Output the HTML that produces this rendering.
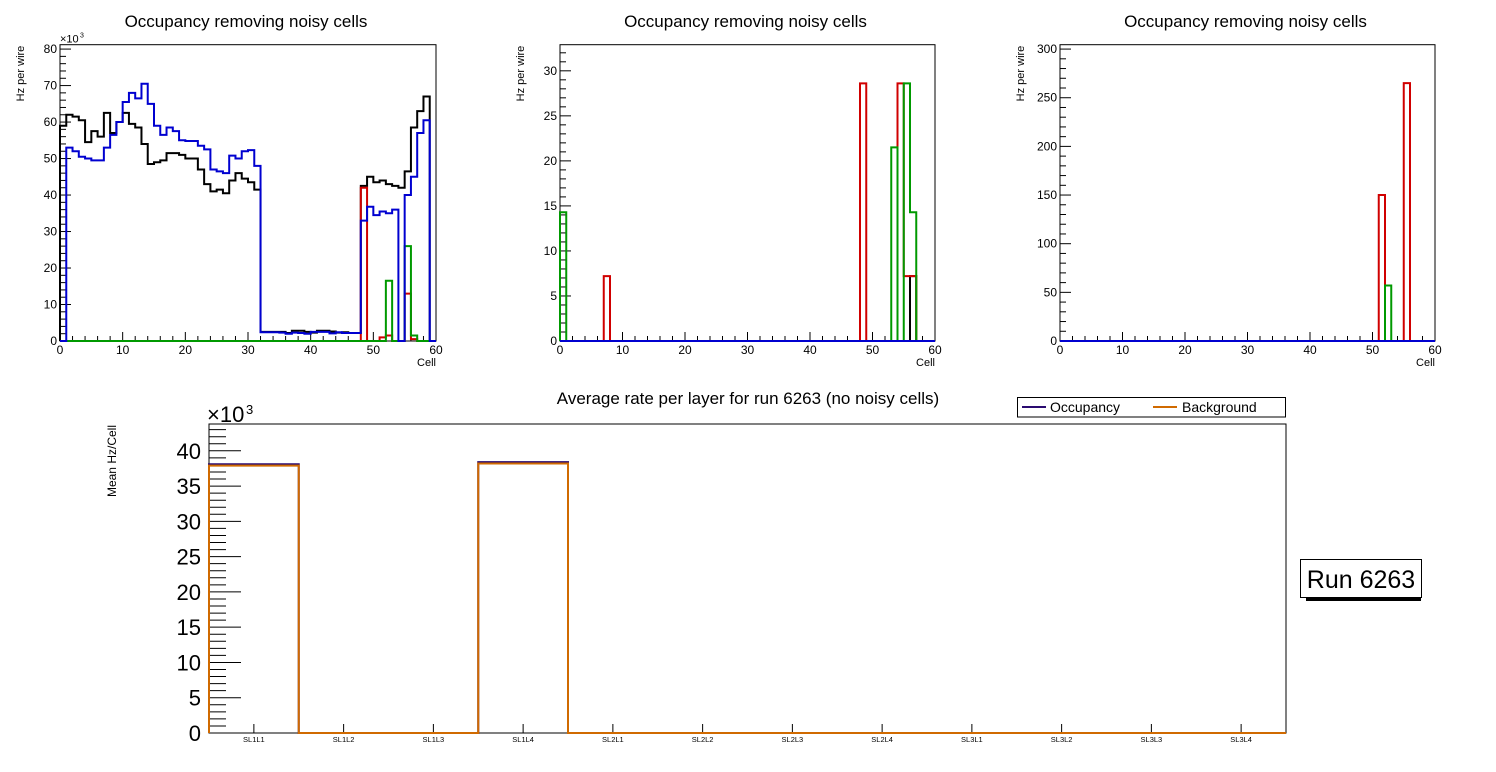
<!DOCTYPE html>
<html><head><meta charset="utf-8"><style>
html,body{margin:0;padding:0;background:#fff;}
svg{display:block;font-family:"Liberation Sans",sans-serif;}
</style></head><body>
<svg id="c" width="1496" height="772" viewBox="0 0 1496 772" xmlns="http://www.w3.org/2000/svg"></svg>
<script>
// Panel 1 data (60 cells)
const p1Black = [59,62,61.5,60.5,54.5,57.5,56,62.5,57,60,62.5,59.5,58.5,54,48.5,49,49.5,51.5,51.5,51,50,50,47,43,41,41.5,40.5,44,46,44.5,43.5,41.5,2.5,2.5,2.5,2.5,2.2,2.8,2.8,2.5,2.3,2.8,2.8,2.6,2.3,2.4,2.2,2.2,42.5,45,43.5,44,43,42.5,42,46.5,58.5,63,67,0];
const p1Blue = [0,53,52,50.5,50,49.5,49.5,53,56.5,60,65.5,68,66.5,70.5,65,59,56.5,58.5,57.5,55,54.8,54.8,53.5,52.5,47,46.5,46,50.8,50,52,52.3,48,2.4,2.4,2.4,2.3,2.0,2.3,2.2,2.0,2.5,2.5,2.5,2.1,2.4,2.2,2.2,2.2,33,36.8,34.5,35.5,35,36,0,40,45,57,60.5,0];
const p1Red = [0,0,0,0,0,0,0,0,0,0,0,0,0,0,0,0,0,0,0,0,0,0,0,0,0,0,0,0,0,0,0,0,0,0,0,0,0,0,0,0,0,0,0,0,0,0,0,0,42,0,0,1,1.5,0,0,13,0.5,0,0,0];
const p1Green = [0,0,0,0,0,0,0,0,0,0,0,0,0,0,0,0,0,0,0,0,0,0,0,0,0,0,0,0,0,0,0,0,0,0,0,0,0,0,0,0,0,0,0,0,0,0,0,0,0,0,0,0,16.5,0,0,26,1.5,0,0,0];
// Panel 2 data
const p2Black = [0,0,0,0,0,0,0,0,0,0,0,0,0,0,0,0,0,0,0,0,0,0,0,0,0,0,0,0,0,0,0,0,0,0,0,0,0,0,0,0,0,0,0,0,0,0,0,0,0,0,0,0,0,0,0,0,7.2,0,0,0];
const p2Red = [0,0,0,0,0,0,0,7.2,0,0,0,0,0,0,0,0,0,0,0,0,0,0,0,0,0,0,0,0,0,0,0,0,0,0,0,0,0,0,0,0,0,0,0,0,0,0,0,0,28.6,0,0,0,0,0,28.6,7.2,7.2,0,0,0];
const p2Green = [14.3,0,0,0,0,0,0,0,0,0,0,0,0,0,0,0,0,0,0,0,0,0,0,0,0,0,0,0,0,0,0,0,0,0,0,0,0,0,0,0,0,0,0,0,0,0,0,0,0,0,0,0,0,21.5,0,28.6,14.3,0,0,0];
const p2Blue = new Array(60).fill(0);
// Panel 3 data
const p3Red = [0,0,0,0,0,0,0,0,0,0,0,0,0,0,0,0,0,0,0,0,0,0,0,0,0,0,0,0,0,0,0,0,0,0,0,0,0,0,0,0,0,0,0,0,0,0,0,0,0,0,0,150,0,0,0,265,0,0,0,0];
const p3Green = [0,0,0,0,0,0,0,0,0,0,0,0,0,0,0,0,0,0,0,0,0,0,0,0,0,0,0,0,0,0,0,0,0,0,0,0,0,0,0,0,0,0,0,0,0,0,0,0,0,0,0,0,57,0,0,0,0,0,0,0];
const p3Blue = new Array(60).fill(0);
// Bottom chart data
const layers = ["SL1L1","SL1L2","SL1L3","SL1L4","SL2L1","SL2L2","SL2L3","SL2L4","SL3L1","SL3L2","SL3L3","SL3L4"];
const occupancy = [38.1,0,0,38.4,0,0,0,0,0,0,0,0];
const background = [37.9,0,0,38.2,0,0,0,0,0,0,0,0];
const xTicks = [0,10,20,30,40,50,60];

const svg = document.getElementById('c');
const NS = 'http://www.w3.org/2000/svg';
function mk(tag, attrs, parent){
  const e = document.createElementNS(NS, tag);
  for (const k in attrs) e.setAttribute(k, attrs[k]);
  (parent||svg).appendChild(e);
  return e;
}
function txt(s, attrs, parent){ const t = mk('text', attrs, parent); t.textContent = s; return t; }

function histPath(vals, xs, ys, n){
  let d = 'M' + xs(0) + ',' + ys(0);
  for (let i=0;i<n;i++){
    d += ' L' + xs(i) + ',' + ys(vals[i]) + ' L' + xs(i+1) + ',' + ys(vals[i]);
  }
  d += ' L' + xs(n) + ',' + ys(0);
  return d;
}

function panel(name, x0, x1, yT, yB, ymax, major, minor, series, exp){
  const g = mk('g', {});
  
  
  const xs = c => x0 + (x1-x0)*c/60;
  const ys = v => yB - (yB-yT)*v/ymax;
  const t = txt('Occupancy removing noisy cells', {x:(x0+x1)/2-2, y:27, 'font-size':17, 'text-anchor':'middle'}, g);
  
  
  mk('rect', {x:x0, y:yT, width:x1-x0, height:yB-yT, fill:'none', stroke:'#000', 'stroke-width':1}, g);
  for (let v=0; v<=ymax+1e-9; v+=minor){
    const isMaj = Math.abs(v/major - Math.round(v/major))<1e-6;
    mk('line', {x1:x0, x2:x0+(isMaj?11:6), y1:ys(v), y2:ys(v), stroke:'#000', 'stroke-width':1}, g);
    if (isMaj){
      const l = txt(String(Math.round(v)), {x:x0-3, y:ys(v)+4, 'font-size':12, 'text-anchor':'end'}, g);
      
      
    }
  }
  for (let c=0;c<=60;c+=2){
    const isMaj = c%10===0;
    mk('line', {x1:xs(c), x2:xs(c), y1:yB, y2:yB-(isMaj?9:5), stroke:'#000', 'stroke-width':1}, g);
  }
  xTicks.forEach(c=>{
    const l = txt(String(c), {x:xs(c), y:yB+13, 'font-size':12, 'text-anchor':'middle'}, g);
    
    
  });
  const xl = txt('Cell', {x:x1, y:yB+25, 'font-size':11, 'text-anchor':'end'}, g);
  
  
  const yl = txt('Hz per wire', {x:0, y:0, 'font-size':11, 'text-anchor':'end', transform:'translate('+(x0-36)+','+(yT+1)+') rotate(-90)'}, g);
  
  
  if (exp){
    const e = txt('×10', {x:x0, y:yT-2, 'font-size':11}, g);
    
    
    txt('3', {x:x0+20, y:yT-7, 'font-size':7}, g);
  }
  series.forEach(s=>{
    const p = mk('path', {d:histPath(s.v, xs, ys, 60), fill:'none', stroke:s.c, 'stroke-width':2}, g);
    
    
  });
}

panel('panel-layer-1', 60, 436, 44.7, 341, 81.2, 10, 2, [
  {v:p1Black, c:'#000', n:'series-black'},
  {v:p1Red, c:'#d00000', n:'series-red'},
  {v:p1Green, c:'#009900', n:'series-green'},
  {v:p1Blue, c:'#0000d0', n:'series-blue'}], true);
panel('panel-layer-2', 560, 935, 44.7, 341, 32.9, 5, 1, [
  {v:p2Black, c:'#000', n:'series-black'},
  {v:p2Red, c:'#d00000', n:'series-red'},
  {v:p2Green, c:'#009900', n:'series-green'},
  {v:p2Blue, c:'#0000d0', n:'series-blue'}], false);
panel('panel-layer-3', 1060, 1435, 44.7, 341, 304.5, 50, 10, [
  {v:p3Red, c:'#d00000', n:'series-red'},
  {v:p3Green, c:'#009900', n:'series-green'},
  {v:p3Blue, c:'#0000d0', n:'series-blue'}], false);

(function(){
  const g = mk('g', {});
  
  
  const x0=209, x1=1286, yT=424, yB=733, ymax=43.8, n=layers.length;
  const xs = i => x0 + (x1-x0)*i/n;
  const ys = v => yB - (yB-yT)*v/ymax;
  mk('rect', {x:x0, y:yT, width:x1-x0, height:yB-yT, fill:'none', stroke:'#000', 'stroke-width':1}, g);
  const t = txt('Average rate per layer for run 6263 (no noisy cells)', {x:748, y:404, 'font-size':17, 'text-anchor':'middle'}, g);
  
  
  for (let v=0; v<=ymax; v+=1){
    const isMaj = v%5===0;
    mk('line', {x1:x0, x2:x0+(isMaj?32:17), y1:ys(v), y2:ys(v), stroke:'#000', 'stroke-width':1}, g);
    if (isMaj){
      const l = txt(String(v), {x:x0-8, y:ys(v)+8, 'font-size':22, 'text-anchor':'end'}, g);
      
      
    }
  }
  layers.forEach((lab,i)=>{
    const cx = (xs(i)+xs(i+1))/2;
    mk('line', {x1:cx, x2:cx, y1:yB, y2:yB-9, stroke:'#000', 'stroke-width':1}, g);
    const l = txt(lab, {x:cx, y:yB+9, 'font-size':7.5, 'text-anchor':'middle'}, g);
    
    
  });
  const e = txt('×10', {x:x0-2, y:yT-2, 'font-size':22}, g);
  
  
  txt('3', {x:x0+37, y:yT-10, 'font-size':13}, g);
  const yl = txt('Mean Hz/Cell', {x:0, y:0, 'font-size':12, 'text-anchor':'end', transform:'translate(116,425) rotate(-90)'}, g);
  
  
  const po = mk('path', {d:histPath(occupancy, xs, ys, n), fill:'none', stroke:'#2a0a70', 'stroke-width':2}, g);
  
  
  const pb = mk('path', {d:histPath(background, xs, ys, n), fill:'none', stroke:'#d06a00', 'stroke-width':2}, g);
  
  
  const lg = mk('g', {}, g);
  
  
  mk('rect', {x:1017.5, y:397.5, width:268, height:19.5, fill:'#fff', stroke:'#000', 'stroke-width':1}, lg);
  mk('line', {x1:1022, x2:1046, y1:407, y2:407, stroke:'#2a0a70', 'stroke-width':2}, lg);
  const l1 = txt('Occupancy', {x:1050, y:412, 'font-size':14}, lg);
  
  
  mk('line', {x1:1153, x2:1177, y1:407, y2:407, stroke:'#d06a00', 'stroke-width':2}, lg);
  const l2 = txt('Background', {x:1182, y:412, 'font-size':14}, lg);
  
  
  const rb = mk('g', {}, g);
  
  
  mk('rect', {x:1306, y:596, width:115, height:5, fill:'#000'}, rb);
  mk('rect', {x:1300.5, y:559.5, width:121, height:38, fill:'#fff', stroke:'#000', 'stroke-width':1}, rb);
  const rt = txt('Run 6263', {x:1361, y:588, 'font-size':25, 'text-anchor':'middle'}, rb);
  
  
})();
</script>
</body></html>
